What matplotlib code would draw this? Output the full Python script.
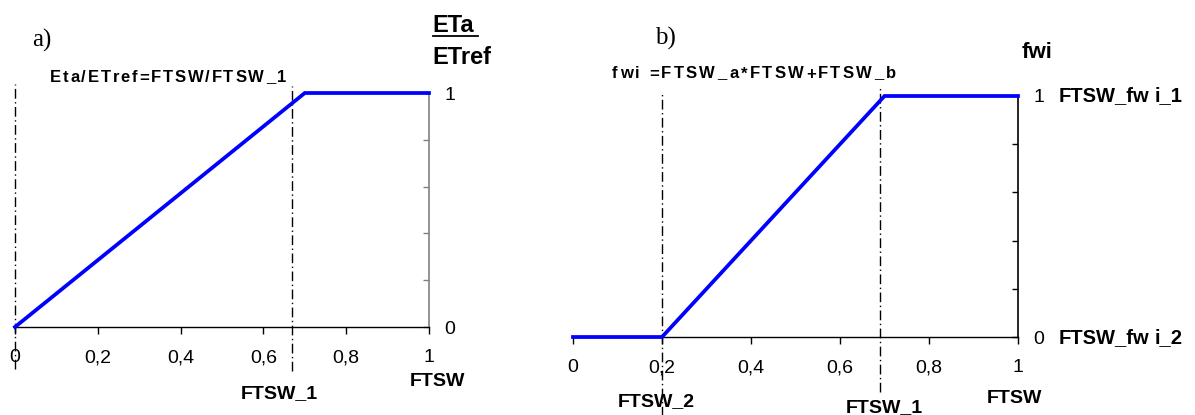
import matplotlib
matplotlib.use("Agg")
import matplotlib.pyplot as plt
from matplotlib.ticker import FixedLocator
from matplotlib.font_manager import FontProperties, findfont
from matplotlib.ft2font import FT2Font

# ---- data ----
a_x = [0.0, 0.7, 1.0]
a_y = [0.0, 1.0, 1.0]
a_vlines = [0.0, 0.67]
b_x = [0.0, 0.2, 0.7, 1.0]
b_y = [0.0, 0.0, 1.0, 1.0]
b_vlines = [0.2, 0.69]
x_ticks = [0.0, 0.2, 0.4, 0.6, 0.8, 1.0]
x_tick_labels = ["0", "0,2", "0,4", "0,6", "0,8", "1"]
y_major = [0.0, 1.0]
y_major_labels = ["0", "1"]
y_minor = [0.2, 0.4, 0.6, 0.8]

W, H = 1195, 415
DPI = 100
fig = plt.figure(figsize=(W / DPI, H / DPI), dpi=DPI)
plt.rcParams['font.family'] = ['Liberation Sans', 'DejaVu Sans']

BLUE = '#0000ff'
DASH = (0, (7, 2.5, 1, 2.5))
TICK_FS = 14
LAB_FS = 14


def px_axes(x0, x1, y0, y1):
    return fig.add_axes([x0 / W, 1 - y1 / H, (x1 - x0) / W, (y1 - y0) / H])


def style(ax, rcolor):
    ax.set_xlim(0, 1)
    ax.set_ylim(0, 1)
    ax.spines['top'].set_visible(False)
    ax.spines['left'].set_visible(False)
    ax.spines['bottom'].set_color('black')
    ax.spines['bottom'].set_linewidth(1.0)
    ax.spines['right'].set_color(rcolor)
    ax.spines['right'].set_linewidth(1.2)
    ax.set_xticks(x_ticks)
    ax.set_xticklabels(x_tick_labels, fontsize=TICK_FS)
    ax.tick_params(axis='x', direction='out', length=5, width=1, color='black', pad=11)
    ax.yaxis.tick_right()
    ax.set_yticks(y_major)
    ax.set_yticklabels(y_major_labels, fontsize=TICK_FS)
    ax.yaxis.set_minor_locator(FixedLocator(y_minor))
    ax.tick_params(axis='y', which='both', direction='in', length=4, width=1,
                   color=rcolor, pad=11, left=False, right=True)
    ax.patch.set_alpha(0)


def fig_text(x, y, s, **kw):
    fig.text(x / W, 1 - y / H, s, **kw)


def spaced_text(x0, x1, y, s, fs, weight='bold'):
    """Draw s between x0 and x1 px with uniform letter spacing."""
    path = findfont(FontProperties(family='Liberation Sans', weight=weight))
    font = FT2Font(path)
    font.set_size(fs, DPI)
    adv = []
    for c in s:
        g = font.load_char(ord(c))
        adv.append(g.linearHoriAdvance / 65536.0)
    natural = sum(adv[:-1])
    extra = (x1 - x0 - natural - adv[-1]) / (len(s) - 1)
    pos = x0
    for c, a in zip(s, adv):
        if c != ' ':
            fig_text(pos, y, c, fontsize=fs, fontweight=weight, ha='left', va='center')
        pos += a + extra


# ---- panel a ----
axa = px_axes(15, 429, 93, 327)
style(axa, '#808080')
axa.axvline(a_vlines[0], ymin=-0.18, ymax=1.04, color='black', lw=1, ls=DASH, clip_on=False)
axa.axvline(a_vlines[1], ymin=-0.19, ymax=1.03, color='black', lw=1, ls=DASH, clip_on=False)
axa.plot(a_x, a_y, color=BLUE, lw=2.7, solid_joinstyle='miter', clip_on=False, zorder=5)

fig_text(42, 40, "a)", fontsize=18, family='Liberation Serif', ha='center', va='center')
fig_text(432, 25, "ETa", fontsize=17, fontweight='bold', ha='left', va='center')
fig.add_artist(plt.Line2D([433 / W, 478 / W], [1 - 36.5 / H, 1 - 36.5 / H], color='black', lw=1.3))
fig_text(432, 57, "ETref", fontsize=17, fontweight='bold', ha='left', va='center')
spaced_text(50, 286, 78, "Eta/ETref=FTSW/FTSW_1", 12)
fig_text(279, 394, "FTSW_1", fontsize=LAB_FS, fontweight='bold', ha='center', va='center')
fig_text(437, 381, "FTSW", fontsize=LAB_FS, fontweight='bold', ha='center', va='center')

# ---- panel b ----
axb = px_axes(573, 1018, 96, 337)
style(axb, 'black')
axb.axvline(b_vlines[0], ymin=-0.33, ymax=1.02, color='black', lw=1, ls=DASH, clip_on=False)
axb.axvline(b_vlines[1], ymin=-0.23, ymax=1.04, color='black', lw=1, ls=DASH, clip_on=False)
axb.plot(b_x, b_y, color=BLUE, lw=2.7, solid_joinstyle='miter', clip_on=False, zorder=5)

fig_text(665, 38, "b)", fontsize=18, family='Liberation Serif', ha='center', va='center')
fig_text(1037, 52, "fwi", fontsize=16, fontweight='bold', ha='center', va='center')
spaced_text(612, 896, 74, "fwi =FTSW_a*FTSW+FTSW_b", 12)
for yy, tail in [(96, "i_1"), (338, "i_2")]:
    fig_text(1059, yy, "FTSW_fw", fontsize=14.5, fontweight='bold', ha='left', va='center')
    fig_text(1155, yy, tail, fontsize=14.5, fontweight='bold', ha='left', va='center')
fig_text(656, 402, "FTSW_2", fontsize=LAB_FS, fontweight='bold', ha='center', va='center')
fig_text(884, 408, "FTSW_1", fontsize=LAB_FS, fontweight='bold', ha='center', va='center')
fig_text(1014, 398, "FTSW", fontsize=LAB_FS, fontweight='bold', ha='center', va='center')

fig.savefig("out.png", dpi=DPI)
